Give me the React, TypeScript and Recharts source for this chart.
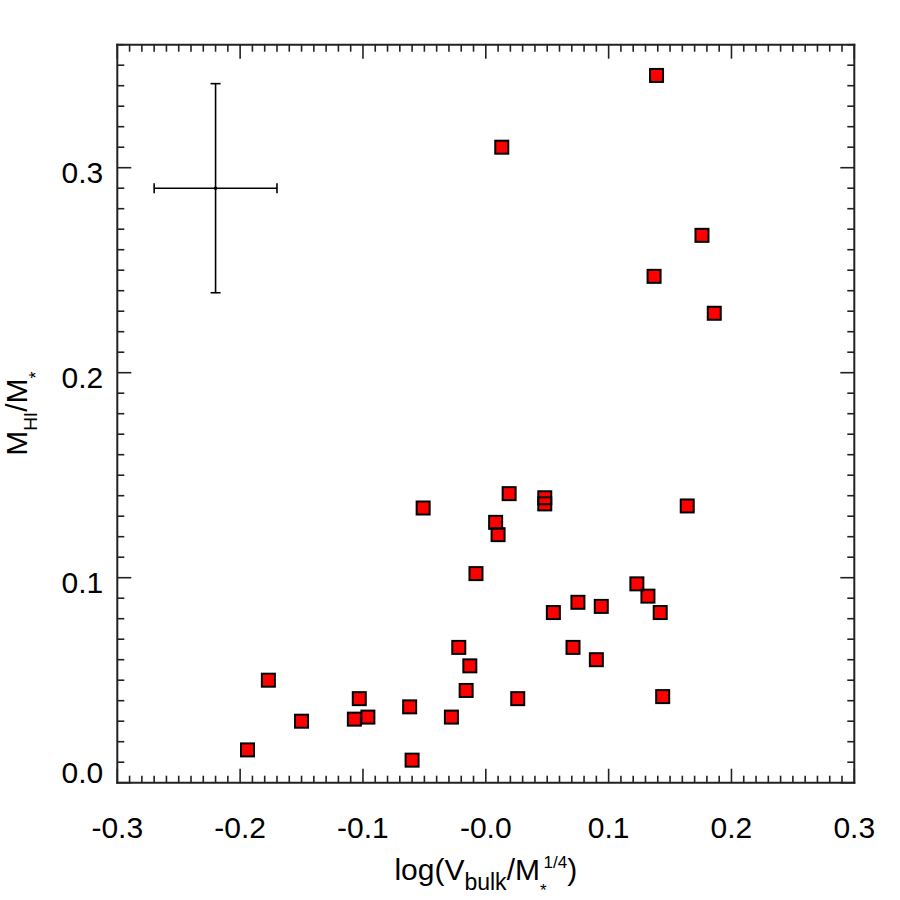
import { ScatterChart, Scatter, XAxis, YAxis, ErrorBar } from 'recharts';

// log(V_bulk / M_*^(1/4)) and M_HI/M_* for each galaxy
const logVbulk = [
  -0.194, -0.177, -0.15, -0.107, -0.103, -0.096, -0.062, -0.06, -0.051, -0.028,
  -0.022, -0.016, -0.013, -0.008, 0.008, 0.01, 0.013, 0.019, 0.026, 0.048,
  0.048, 0.055, 0.071, 0.075, 0.09, 0.094, 0.123, 0.132, 0.137, 0.139,
  0.142, 0.144, 0.164, 0.176, 0.186,
];
const gasFraction = [
  0.016, 0.05, 0.03, 0.031, 0.041, 0.032, 0.037, 0.011, 0.134, 0.032,
  0.066, 0.045, 0.057, 0.102, 0.127, 0.121, 0.31, 0.141, 0.041, 0.139,
  0.136, 0.083, 0.066, 0.088, 0.06, 0.086, 0.097, 0.091, 0.247, 0.345,
  0.083, 0.042, 0.135, 0.267, 0.229,
];

// typical uncertainty, drawn as a cross in the upper left corner
const errorCross = [{ x: -0.22, y: 0.29, ex: 0.05, ey: 0.051 }];

const xMajorTicks = [-0.3, -0.2, -0.1, 0, 0.1, 0.2, 0.3];
const xTickLabels = ['-0.3', '-0.2', '-0.1', '-0.0', '0.1', '0.2', '0.3'];
const yMajorTicks = [0, 0.1, 0.2, 0.3];
const yTickLabels = ['0.0', '0.1', '0.2', '0.3'];

const X_DOMAIN: [number, number] = [-0.3, 0.3];
const Y_DOMAIN: [number, number] = [0, 0.36];
const MINOR_STEP = 0.01;

const FONT = '"Liberation Sans", Arial, Helvetica, sans-serif';
const AXIS = '#222';
const MAJOR_LEN = 14;
const MINOR_LEN = 7;
const TICK_FONT = 30;

// plot box in page pixels
const W = 900;
const H = 900;
const LEFT = 117.3;
const TOP = 44.7;
const RIGHT = 45.7;
const BOTTOM = 117.3;

function stepTicks([lo, hi]: [number, number], step: number) {
  const n = Math.round((hi - lo) / step);
  return Array.from({ length: n + 1 }, (_, i) => Math.round((lo + i * step) * 1000) / 1000);
}

const xTicks = stepTicks(X_DOMAIN, MINOR_STEP);
const yTicks = stepTicks(Y_DOMAIN, MINOR_STEP);

const points = logVbulk.map((x, i) => ({ x, y: gasFraction[i] }));

type Side = 'bottom' | 'top' | 'left' | 'right';

function makeTick(side: Side) {
  return (props: any) => {
    const { x, y, payload } = props;
    const horizontal = side === 'bottom' || side === 'top';
    const majors = horizontal ? xMajorTicks : yMajorTicks;
    const idx = majors.findIndex((t) => Math.abs(t - payload.value) < 1e-6);
    const len = idx >= 0 ? MAJOR_LEN : MINOR_LEN;
    let x2 = x;
    let y2 = y;
    if (side === 'bottom') y2 = y - len;
    if (side === 'top') y2 = y + len;
    if (side === 'left') x2 = x + len;
    if (side === 'right') x2 = x - len;

    let label = null;
    if (idx >= 0 && side === 'bottom') {
      label = (
        <text x={x} y={y + 55} textAnchor="middle" fontSize={TICK_FONT} fontFamily={FONT} fill="#000">
          {xTickLabels[idx]}
        </text>
      );
    }
    if (idx >= 0 && side === 'left') {
      // the lowest label sits on the axis instead of straddling it
      const dy = payload.value === 0 ? 0 : 15;
      label = (
        <text x={x - 14} y={y + dy} textAnchor="end" fontSize={TICK_FONT} fontFamily={FONT} fill="#000">
          {yTickLabels[idx]}
        </text>
      );
    }
    return (
      <g>
        <line x1={x} y1={y} x2={x2} y2={y2} stroke={AXIS} strokeWidth={1.6} />
        {label}
      </g>
    );
  };
}

const XTitle = () => (
  <text
    x={LEFT + (W - LEFT - RIGHT) / 2}
    y={880}
    textAnchor="middle"
    fontSize={30}
    fontFamily={FONT}
    fill="#000"
  >
    <tspan>log(V</tspan>
    <tspan fontSize={23} dy={10}>bulk</tspan>
    <tspan dy={-10}>/M</tspan>
    <tspan fontSize={17} dy={16}>*</tspan>
    <tspan fontSize={17} dx={-3} dy={-28}>1/4</tspan>
    <tspan dy={12}>)</tspan>
  </text>
);

const YTitle = () => (
  <text
    transform={`translate(27, ${TOP + (H - TOP - BOTTOM) / 2}) rotate(-90)`}
    textAnchor="middle"
    fontSize={30}
    fontFamily={FONT}
    fill="#000"
  >
    <tspan>M</tspan>
    <tspan fontSize={19} dy={10}>HI</tspan>
    <tspan dy={-10}>/M</tspan>
    <tspan fontSize={18} dy={15}>*</tspan>
  </text>
);

const FillSquare = (p: any) => (
  <rect x={p.cx - 6.5} y={p.cy - 6.5} width={13} height={13} fill="#ff0000" />
);
const OutlineSquare = (p: any) => (
  <rect
    x={p.cx - 6.5}
    y={p.cy - 6.5}
    width={13}
    height={13}
    fill="none"
    stroke="#000"
    strokeWidth={2}
  />
);
const CrossDot = (p: any) => <circle cx={p.cx} cy={p.cy} r={1.8} fill="#000" />;

const axisLine = { stroke: AXIS, strokeWidth: 2, strokeLinecap: 'square' as const };

export default function App() {
  return (
    <div style={{ position: 'absolute', left: 0, top: 0, width: W, height: H, background: '#fff' }}>
      <ScatterChart width={W} height={H} margin={{ top: 0, right: 0, bottom: 0, left: 0 }}>
        <XAxis
          dataKey="x"
          type="number"
          domain={X_DOMAIN}
          allowDataOverflow
          ticks={xTicks}
          interval={0}
          height={BOTTOM}
          tickSize={0}
          tickMargin={0}
          tickLine={false}
          axisLine={axisLine}
          tick={makeTick('bottom')}
          label={<XTitle />}
        />
        <XAxis
          xAxisId="top"
          orientation="top"
          dataKey="x"
          type="number"
          domain={X_DOMAIN}
          allowDataOverflow
          ticks={xTicks}
          interval={0}
          height={TOP}
          tickSize={0}
          tickMargin={0}
          tickLine={false}
          axisLine={axisLine}
          tick={makeTick('top')}
        />
        <YAxis
          dataKey="y"
          type="number"
          domain={Y_DOMAIN}
          allowDataOverflow
          ticks={yTicks}
          interval={0}
          width={LEFT}
          tickSize={0}
          tickMargin={0}
          tickLine={false}
          axisLine={axisLine}
          tick={makeTick('left')}
          label={<YTitle />}
        />
        <YAxis
          yAxisId="right"
          orientation="right"
          dataKey="y"
          type="number"
          domain={Y_DOMAIN}
          allowDataOverflow
          ticks={yTicks}
          interval={0}
          width={RIGHT}
          tickSize={0}
          tickMargin={0}
          tickLine={false}
          axisLine={axisLine}
          tick={makeTick('right')}
        />
        <Scatter data={errorCross} shape={CrossDot} isAnimationActive={false}>
          <ErrorBar dataKey="ex" direction="x" width={5} stroke="#000" strokeWidth={1.6} isAnimationActive={false} />
          <ErrorBar dataKey="ey" direction="y" width={5} stroke="#000" strokeWidth={1.6} isAnimationActive={false} />
        </Scatter>
        <Scatter data={points} shape={FillSquare} isAnimationActive={false} />
        <Scatter data={points} shape={OutlineSquare} isAnimationActive={false} />
      </ScatterChart>
    </div>
  );
}
